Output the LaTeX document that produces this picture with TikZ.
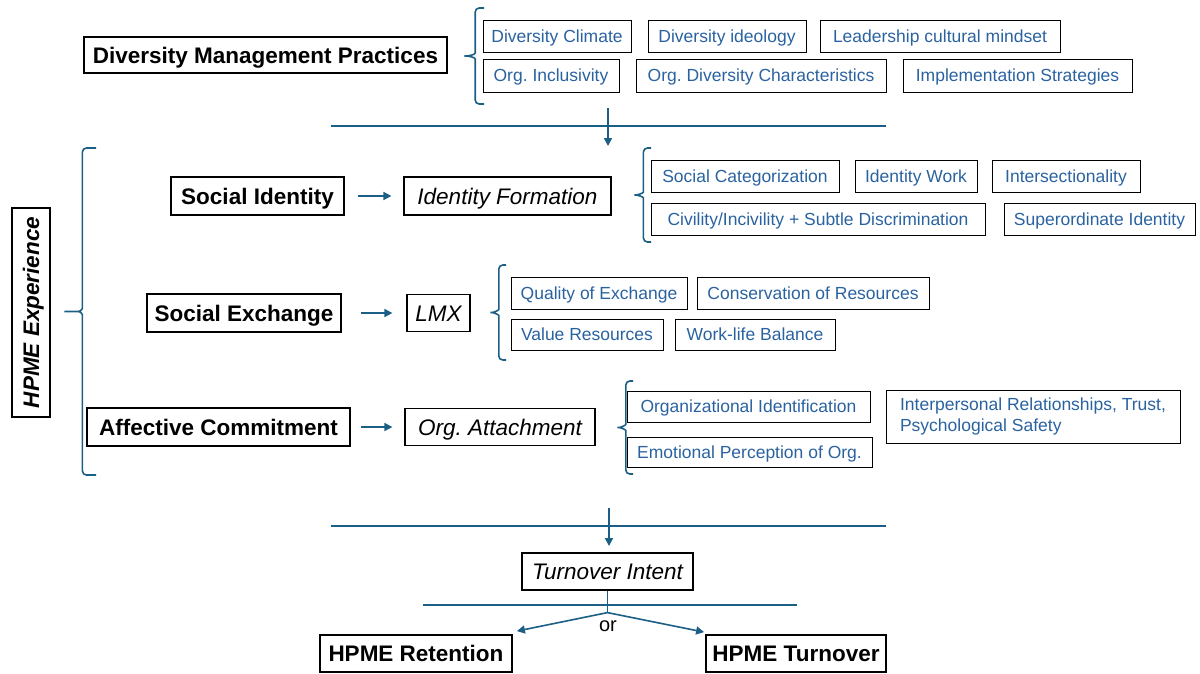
\documentclass[tikz,border=0pt]{standalone}
\usepackage{fontspec}
\setmainfont{Liberation Sans}
\usetikzlibrary{arrows.meta}
\definecolor{linkblue}{HTML}{1C5F86}
\definecolor{itemblue}{HTML}{2A62A0}
% bracket: ends x, tip x, top y, bottom y
\newcommand{\grpbrace}[4]{%
    \pgfmathsetmacro{\bv}{#2 + 0.6*(#1-#2)}%
    \pgfmathsetmacro{\bm}{(#3+#4)/2}%
    \draw[grp] (#1,#3) -- (\bv,#3) -- (\bv,\bm-7) to[out=-90,in=0] (#2,\bm) to[out=0,in=90] (\bv,\bm+7) -- (\bv,#4) -- (#1,#4);
}

\begin{document}
\frenchspacing
\begin{tikzpicture}[x=1pt, y=-1pt,
    mainbox/.style={draw=black, line width=1.8pt, font=\fontsize{22.5}{25}\selectfont\bfseries, inner sep=0pt, text height=20pt, text depth=4pt},
    medbox/.style={draw=black, line width=1.2pt, font=\fontsize{22.5}{25}\selectfont\itshape, inner sep=0pt, text height=20pt, text depth=4pt},
    itembox/.style={draw=black, line width=0.9pt, text=itemblue, font=\fontsize{17.5}{21}\selectfont, inner sep=0pt, text height=16pt, text depth=3.5pt},
    sep/.style={draw=linkblue, line width=2.6pt},
    flow/.style={draw=linkblue, line width=1.6pt, -{Triangle[length=8pt,width=8pt]}},
    grp/.style={draw=linkblue, line width=1.6pt, rounded corners=4pt}]
    \useasboundingbox (0,0) rectangle (1200,673);

    % main concepts
    \node[mainbox, minimum width=363pt, minimum height=36pt] (dmp) at (265.5,55) {Diversity Management Practices};
    \node[mainbox, font=\fontsize{22.5}{25}\selectfont\bfseries\itshape, rotate=90, minimum width=209pt, minimum height=38pt] (hexp) at (31,312.5) {HPME Experience};
    \node[mainbox, minimum width=173pt, minimum height=38pt] (si) at (257.5,196) {Social Identity};
    \node[mainbox, minimum width=194pt, minimum height=38pt] (se) at (244,313) {Social Exchange};
    \node[mainbox, minimum width=263pt, minimum height=38pt] (ac) at (218.5,427) {Affective Commitment};
    \node[medbox, minimum width=207pt, minimum height=38pt] (iform) at (507.5,196) {Identity Formation};
    \node[medbox, minimum width=63pt, minimum height=37pt] (lmx) at (438.5,313) {LMX};
    \node[medbox, minimum width=190pt, minimum height=37pt] (oatt) at (500,427) {Org. Attachment};
    \node[medbox, minimum width=171pt, minimum height=37pt] (ti) at (607.5,571.5) {Turnover Intent};
    \node[mainbox, minimum width=192pt, minimum height=37pt] (hr) at (416,653.5) {HPME Retention};
    \node[mainbox, minimum width=180pt, minimum height=37pt] (ht) at (796,653.5) {HPME Turnover};

    % blue items
    \foreach \n/\cx/\cy/\w/\h/\t in {dc/557/36/148/32/{Diversity Climate}, di/727/36/158/32/{Diversity ideology},
        lc/940/36/240/32/{Leadership cultural mindset}, oi/551/75.5/136/33/{Org. Inclusivity},
        od/761/75.5/250/33/{Org. Diversity Characteristics}, is/1017.5/75.5/229/33/{Implementation Strategies},
        sc/745/176/188/32/{Social Categorization}, iw/916/176/122/32/{Identity Work},
        ix/1066/176/148/32/{Intersectionality}, cv/818/219/334/32/{Civility/Incivility + Subtle Discrimination},
        su/1099.5/219/191/32/{Superordinate Identity}, qe/599/293/176/32/{Quality of Exchange},
        cr/813/293/232/32/{Conservation of Resources}, vr/587/334.5/152/31/{Value Resources},
        wl/755/334.5/160/31/{Work-life Balance}, oid/748.5/406.5/243/31/{Organizational Identification},
        ep/749.5/452/245/30/{Emotional Perception of Org.}}{
        \node[itembox, minimum width=\w pt, minimum height=\h pt] (\n) at (\cx,\cy) {\t};
    }
    \node[itembox, minimum width=294pt, minimum height=53pt, align=left, text height=, text depth=] (ir) at (1033,416.5) {Interpersonal Relationships, Trust,\\Psychological Safety};

    % braces
    \grpbrace{484}{462}{8}{104}
    \grpbrace{96}{62}{148}{475}
    \grpbrace{651}{632}{148}{242}
    \grpbrace{506}{488}{265}{360}
    \grpbrace{633}{615}{381}{474}

    % flow
    \coordinate (s1l) at (331,126); \coordinate (s1r) at (886,126);
    \coordinate (s2l) at (331,526); \coordinate (s2r) at (886,526);
    \coordinate (s3l) at (423,605); \coordinate (s3r) at (797,605);
    \coordinate (d1a) at (608,108); \coordinate (d1b) at (608,146);
    \coordinate (d2a) at (609,508); \coordinate (d2b) at (609,546);
    \draw[sep] (s1l) -- (s1r);
    \draw[sep] (s2l) -- (s2r);
    \draw[sep, line width=1.8pt] (s3l) -- (s3r);
    \draw[flow] (d1a) -- (d1b);
    \draw[flow] (d2a) -- (d2b);
    \draw[flow, shorten <=13pt, shorten >=12pt] (si) -- (iform);
    \draw[flow, shorten <=19pt, shorten >=14pt] (se) -- (lmx);
    \draw[flow, shorten <=10pt, shorten >=12pt] (ac) -- (oatt);
    \coordinate (fork) at ([yshift=-22pt]ti.south);
    \draw[linkblue, line width=1.8pt] (ti.south) -- (fork);
    \draw[flow] (fork) -- ([xshift=4pt,yshift=3pt]hr.north east);
    \draw[flow] (fork) -- ([xshift=-1pt,yshift=2pt]ht.north west);
    \node[font=\fontsize{20}{22}\selectfont] (or) at (608,626) {or};
\end{tikzpicture}
\end{document}
